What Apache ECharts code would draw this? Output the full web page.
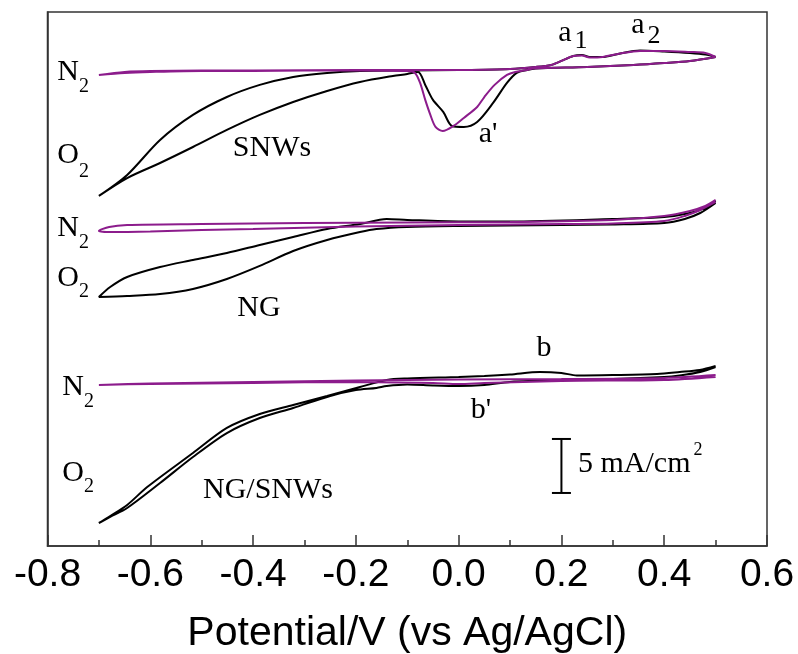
<!DOCTYPE html>
<html>
<head>
<meta charset="utf-8">
<script src="https://cdn.jsdelivr.net/npm/echarts@6.0.0/dist/echarts.min.js"></script>
<style>
html, body { margin: 0; padding: 0; background: #fff; }
#chart { width: 798px; height: 654px; }
</style>
</head>
<body>
<div id="chart"></div>
<script>
// potential (V vs Ag/AgCl), current (mA/cm2, curves offset vertically as in the figure)
// each loop: cathodic scan 0.5 -> -0.7, then anodic scan back to 0.5
var snwsN2 = [
    [0.50, 45.28], [0.45, 44.91], [0.40, 44.72], [0.34, 44.54], [0.25, 44.35], [0.145, 44.21],
    [0.133, 44.07], [0.11, 43.89], [0.094, 43.61], [0.07, 42.69], [0.05, 41.57], [0.036, 40.65],
    [0.01, 39.63], [-0.01, 38.89], [-0.031, 38.43], [-0.045, 38.80], [-0.055, 39.91], [-0.065, 41.30],
    [-0.075, 42.87], [-0.085, 43.80], [-0.10, 43.98], [-0.2, 44.03], [-0.3, 44.03], [-0.4, 43.98],
    [-0.5, 43.98], [-0.6, 43.89], [-0.65, 43.80], [-0.70, 43.61],
    [-0.65, 43.89], [-0.6, 43.98], [-0.4, 44.03], [-0.2, 44.07], [0.0, 44.07], [0.1, 44.17],
    [0.15, 44.35], [0.18, 44.54], [0.20, 44.91], [0.223, 45.37], [0.24, 45.42], [0.255, 45.23],
    [0.28, 45.28], [0.31, 45.56], [0.353, 45.83], [0.40, 45.83], [0.45, 45.74], [0.48, 45.65], [0.50, 45.28]
];
var snwsO2 = [
    [0.50, 45.28], [0.45, 44.91], [0.40, 44.72], [0.34, 44.54], [0.25, 44.35], [0.15, 44.21],
    [0.133, 44.07], [0.113, 43.80], [0.094, 42.87], [0.067, 41.02], [0.036, 39.26], [0.01, 38.80],
    [-0.013, 38.89], [-0.03, 40.19], [-0.05, 41.30], [-0.065, 42.69], [-0.079, 43.89], [-0.10, 43.70],
    [-0.128, 43.52], [-0.192, 42.96], [-0.256, 42.13], [-0.322, 41.11], [-0.387, 39.91], [-0.451, 38.52],
    [-0.517, 36.94], [-0.581, 35.46], [-0.645, 34.07], [-0.70, 32.41],
    [-0.645, 34.35], [-0.581, 37.59], [-0.517, 39.91], [-0.451, 41.57], [-0.387, 42.69], [-0.322, 43.43],
    [-0.256, 43.80], [-0.192, 43.98], [-0.1, 44.03], [0.0, 44.07], [0.1, 44.17], [0.15, 44.35],
    [0.18, 44.54], [0.20, 44.91], [0.223, 45.37], [0.24, 45.46], [0.255, 45.28], [0.28, 45.28],
    [0.31, 45.56], [0.353, 45.88], [0.40, 45.79], [0.45, 45.65], [0.48, 45.51], [0.50, 45.28]
];
var ngN2 = [
    [0.50, 31.85], [0.47, 31.11], [0.44, 30.56], [0.40, 30.09], [0.30, 29.86], [0.20, 29.81],
    [0.0, 29.72], [-0.2, 29.58], [-0.4, 29.35], [-0.5, 29.26], [-0.6, 29.12], [-0.68, 29.07], [-0.70, 29.17],
    [-0.68, 29.54], [-0.645, 29.72], [-0.5, 29.81], [-0.3, 29.91], [-0.1, 29.95], [0.1, 30.00],
    [0.3, 30.19], [0.40, 30.56], [0.45, 31.02], [0.48, 31.48], [0.50, 32.04]
];
var ngO2 = [
    [0.50, 31.76], [0.47, 30.83], [0.44, 30.28], [0.40, 29.91], [0.30, 29.77], [0.20, 29.72],
    [0.0, 29.63], [-0.1, 29.54], [-0.16, 29.35], [-0.192, 29.07], [-0.256, 28.33], [-0.322, 27.31],
    [-0.387, 25.93], [-0.451, 24.72], [-0.517, 23.80], [-0.581, 23.33], [-0.645, 23.15], [-0.70, 23.06],
    [-0.678, 23.98], [-0.645, 24.91], [-0.581, 25.83], [-0.517, 26.48], [-0.451, 27.13], [-0.387, 27.87],
    [-0.322, 28.61], [-0.256, 29.35], [-0.192, 29.81], [-0.14, 30.28], [-0.1, 30.19], [0.0, 30.05],
    [0.1, 30.05], [0.3, 30.28], [0.40, 30.46], [0.45, 30.83], [0.48, 31.30], [0.50, 31.94]
];
var ngSnwsN2 = [
    [0.50, 15.65], [0.40, 15.37], [0.20, 15.28], [0.05, 15.09], [0.0, 15.00], [-0.05, 15.09],
    [-0.2, 15.19], [-0.4, 15.09], [-0.6, 15.00], [-0.70, 14.91],
    [-0.6, 15.05], [-0.4, 15.19], [-0.2, 15.32], [0.0, 15.42], [0.2, 15.46], [0.4, 15.56], [0.50, 15.83]
];
var ngSnwsO2 = [
    [0.50, 16.57], [0.47, 16.11], [0.43, 15.79], [0.40, 15.65], [0.30, 15.46], [0.20, 15.37],
    [0.10, 15.19], [0.05, 14.91], [0.0, 14.81], [-0.05, 14.86], [-0.10, 14.95], [-0.14, 14.81],
    [-0.16, 14.63], [-0.2, 14.44], [-0.25, 13.89], [-0.322, 12.78], [-0.387, 11.85], [-0.451, 10.46],
    [-0.517, 8.24], [-0.581, 5.83], [-0.645, 3.52], [-0.678, 2.69], [-0.70, 2.13],
    [-0.678, 2.78], [-0.645, 3.80], [-0.606, 5.46], [-0.517, 8.61], [-0.451, 10.93], [-0.387, 12.22],
    [-0.322, 13.06], [-0.256, 13.89], [-0.192, 14.72], [-0.14, 15.37], [-0.10, 15.51], [0.0, 15.65],
    [0.05, 15.74], [0.10, 15.88], [0.158, 16.11], [0.20, 16.02], [0.23, 15.79], [0.30, 15.83],
    [0.386, 15.93], [0.43, 16.11], [0.469, 16.30], [0.50, 16.67]
];
// scale bar: [potential, from, to] in mA/cm2
var scaleBar = [[0.2, 4.91, 9.91]];

var xMin = -0.8, xMax = 0.6, xStep = 0.2;
var yMin = 0, yMax = 49.44;

var BLACK = '#000000';
var PURPLE = '#8c1c8c';
var SERIF = '"Liberation Serif", "Times New Roman", serif';
var SANS = '"Liberation Sans", Arial, sans-serif';

function curve(name, data, color) {
    return {
        name: name,
        type: 'line',
        data: data,
        showSymbol: false,
        smooth: 0.3,
        clip: false,
        lineStyle: { color: color, width: 2 },
        z: color === PURPLE ? 3 : 2
    };
}

// annotation texts (pixel layout)
var notes = [
    ['N', 68, 72, 30], ['2', 84, 87, 20], ['O', 68, 155, 30], ['2', 84, 172, 20],
    ['N', 68, 228, 30], ['2', 84, 243, 20], ['O', 68, 278, 30], ['2', 84, 292, 20],
    ['N', 73, 387, 30], ['2', 89, 402, 20], ['O', 73, 473, 30], ['2', 89, 487, 20],
    ['SNWs', 272, 148, 30], ['NG', 259, 308, 30], ['NG/SNWs', 268, 490, 30],
    ['a\'', 488, 134, 30], ['a', 565, 33, 30], ['1', 581, 41, 26], ['a', 638, 25, 30], ['2', 654, 36, 26],
    ['b', 544, 348, 30], ['b\'', 481, 410, 30]
];

var graphics = notes.map(function (n) {
    return {
        type: 'text',
        x: n[1],
        y: n[2],
        style: {
            text: n[0],
            font: n[3] + 'px ' + SERIF,
            fill: '#000',
            textAlign: 'center',
            textVerticalAlign: 'middle'
        },
        z: 10
    };
});
graphics.push({
    type: 'text', x: 578, y: 464,
    style: { text: '5 mA/cm', font: '30px ' + SERIF, fill: '#000', textAlign: 'left', textVerticalAlign: 'middle' }
});
graphics.push({
    type: 'text', x: 698, y: 450,
    style: { text: '2', font: '18px ' + SERIF, fill: '#000', textAlign: 'center', textVerticalAlign: 'middle' }
});

var chart = echarts.init(document.getElementById('chart'), null, { renderer: 'canvas' });

chart.setOption({
    animation: false,
    backgroundColor: '#fff',
    grid: {
        left: 47.5, right: 31, top: 12, bottom: 108,
        outerBoundsMode: 'none',
        show: true, borderColor: '#333', borderWidth: 1.5, backgroundColor: 'transparent'
    },
    xAxis: {
        type: 'value',
        min: xMin, max: xMax, interval: xStep,
        name: 'Potential/V (vs Ag/AgCl)',
        nameLocation: 'middle',
        nameGap: 67,
        nameTextStyle: { fontFamily: SANS, fontSize: 41, color: '#000' },
        axisLine: { show: true, onZero: false, lineStyle: { color: '#333', width: 1.5 } },
        // negative length draws the ticks up into the plot
        axisTick: { show: true, inside: false, length: -11, lineStyle: { color: '#333', width: 1.5 } },
        minorTick: { show: true, splitNumber: 2, length: -6, lineStyle: { color: '#333', width: 1.5 } },
        splitLine: { show: false },
        axisLabel: {
            fontFamily: SANS, fontSize: 39, color: '#000', margin: 10,
            formatter: function (v) { return v.toFixed(1); }
        }
    },
    yAxis: {
        type: 'value',
        min: yMin, max: yMax,
        axisLine: { show: true, onZero: false, lineStyle: { color: '#333', width: 1.5 } },
        axisTick: { show: false },
        axisLabel: { show: false },
        splitLine: { show: false }
    },
    series: [
        curve('SNWs O2', snwsO2, BLACK),
        curve('SNWs N2', snwsN2, PURPLE),
        curve('NG O2', ngO2, BLACK),
        curve('NG N2', ngN2, PURPLE),
        curve('NG/SNWs O2', ngSnwsO2, BLACK),
        curve('NG/SNWs N2', ngSnwsN2, PURPLE),
        {
            name: 'scale',
            type: 'custom',
            data: scaleBar,
            renderItem: function (params, api) {
                var top = api.coord([api.value(0), api.value(2)]);
                var bot = api.coord([api.value(0), api.value(1)]);
                var w = 9.5;
                var st = { stroke: '#000', lineWidth: 2 };
                return {
                    type: 'group',
                    children: [
                        { type: 'line', shape: { x1: top[0], y1: top[1], x2: bot[0], y2: bot[1] }, style: st },
                        { type: 'line', shape: { x1: top[0] - w, y1: top[1], x2: top[0] + w, y2: top[1] }, style: st },
                        { type: 'line', shape: { x1: bot[0] - w, y1: bot[1], x2: bot[0] + w, y2: bot[1] }, style: st }
                    ]
                };
            },
            z: 5
        }
    ],
    graphic: graphics
});
</script>
</body>
</html>
